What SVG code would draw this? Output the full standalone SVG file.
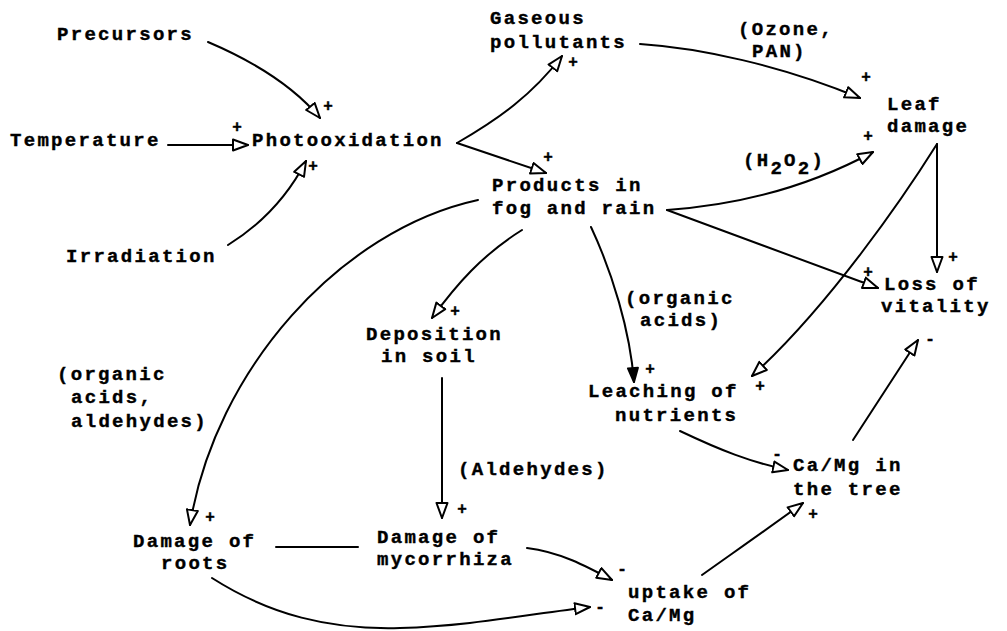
<svg xmlns="http://www.w3.org/2000/svg" width="1007" height="631" viewBox="0 0 1007 631">
  <style>
    .t { font-family: "Liberation Mono", "DejaVu Sans Mono", monospace; font-weight: bold; font-size: 19px; letter-spacing: 2.3px; fill: #000; stroke: #000; stroke-width: 0.4px; }
    .s { font-family: "Liberation Mono", "DejaVu Sans Mono", monospace; font-weight: bold; font-size: 16px; fill: #000; stroke: #000; stroke-width: 0.4px; text-anchor: middle; dominant-baseline: central; }
    .c { fill: none; stroke: #000; stroke-width: 2; stroke-linecap: round; }
    .open { marker-end: url(#openHead); }
    .solid { marker-end: url(#solidHead); }
  </style>
  <defs>
    <marker id="openHead" markerUnits="userSpaceOnUse" markerWidth="18" markerHeight="14" viewBox="0 0 18 14" refX="16" refY="7" orient="auto">
      <path d="M1,1.5 L16,7 L1,12.5 Z" fill="#fff" stroke="#000" stroke-width="2" stroke-linejoin="round"/>
    </marker>
    <marker id="solidHead" markerUnits="userSpaceOnUse" markerWidth="18" markerHeight="14" viewBox="0 0 18 14" refX="16" refY="7" orient="auto">
      <path d="M2,2 L16,7 L2,12 Z" fill="#000" stroke="#000" stroke-width="2" stroke-linejoin="round"/>
    </marker>
  </defs>

  <rect width="1007" height="631" fill="#fff"/>

  <!-- causal links -->
  <g id="connectors">
    <path class="c open" d="M208,42 C255,62 295,88 320,118"/>
    <path class="c open" d="M168,145 L248,145"/>
    <path class="c open" d="M228,245 C265,222 290,192 306,161"/>
    <path class="c open" d="M457,143 C500,118 532,95 562,56"/>
    <path class="c open" d="M457,143 L546,173"/>
    <path class="c open" d="M640,44 C700,48 780,65 860,98"/>
    <path class="c open" d="M667,210 C740,205 810,186 873,152"/>
    <path class="c open" d="M667,210 L878,288"/>
    <path class="c open" d="M937,144 L937,272"/>
    <path class="c open" d="M937,144 C905,195 830,305 752,376"/>
    <path class="c solid" d="M591,227 C612,272 630,330 634,382"/>
    <path class="c open" d="M522,230 C482,255 456,285 432,318"/>
    <path class="c open" d="M478,200 C340,230 215,370 190,525"/>
    <path class="c open" d="M442,378 L442,518"/>
    <path class="c" d="M276,547 L358,547"/>
    <path class="c open" d="M527,548 C560,552 586,566 612,580"/>
    <path class="c open" d="M212,578 C270,615 330,630 400,628 C470,626 530,614 590,607"/>
    <path class="c open" d="M680,431 C720,450 750,462 788,470"/>
    <path class="c open" d="M702,575 C740,548 770,527 803,503"/>
    <path class="c open" d="M853,440 L918,340"/>
  </g>

  <!-- link signs -->
  <g id="signs">
    <text class="s" x="328" y="107">+</text>
    <text class="s" x="237" y="128">+</text>
    <text class="s" x="313" y="167">+</text>
    <text class="s" x="573" y="63">+</text>
    <text class="s" x="548" y="158">+</text>
    <text class="s" x="866" y="78">+</text>
    <text class="s" x="868" y="137">+</text>
    <text class="s" x="868" y="273">+</text>
    <text class="s" x="953" y="258">+</text>
    <text class="s" x="760" y="387">+</text>
    <text class="s" x="650" y="370">+</text>
    <text class="s" x="455" y="312">+</text>
    <text class="s" x="210" y="518">+</text>
    <text class="s" x="462" y="510">+</text>
    <text class="s" x="777" y="455">-</text>
    <text class="s" x="813" y="515">+</text>
    <text class="s" x="930" y="340">-</text>
    <text class="s" x="622" y="570">-</text>
    <text class="s" x="600" y="608">-</text>
  </g>

  <!-- link annotations -->
  <g id="annotations">
    <text class="t" x="738" y="35">(Ozone,</text>
    <text class="t" x="752" y="57">PAN)</text>
    <text class="t" x="743" y="166">(H<tspan dy="8">2</tspan><tspan dy="-8">O</tspan><tspan dy="8">2</tspan><tspan dy="-8">)</tspan></text>
    <text class="t" x="625" y="304">(organic</text>
    <text class="t" x="640" y="326">acids)</text>
    <text class="t" x="57" y="380">(organic</text>
    <text class="t" x="71" y="403">acids,</text>
    <text class="t" x="71" y="427">aldehydes)</text>
    <text class="t" x="458" y="475">(Aldehydes)</text>
  </g>

  <!-- nodes -->
  <g id="precursors"><text class="t" x="57" y="40">Precursors</text></g>
  <g id="temperature"><text class="t" x="10" y="146">Temperature</text></g>
  <g id="irradiation"><text class="t" x="66" y="262">Irradiation</text></g>
  <g id="photooxidation"><text class="t" x="252" y="146">Photooxidation</text></g>
  <g id="gaseous-pollutants">
    <text class="t" x="490" y="24">Gaseous</text>
    <text class="t" x="490" y="48">pollutants</text>
  </g>
  <g id="products-fog-rain">
    <text class="t" x="492" y="191">Products in</text>
    <text class="t" x="492" y="214">fog and rain</text>
  </g>
  <g id="leaf-damage">
    <text class="t" x="887" y="110">Leaf</text>
    <text class="t" x="887" y="132">damage</text>
  </g>
  <g id="loss-of-vitality">
    <text class="t" x="884" y="290">Loss of</text>
    <text class="t" x="881" y="312">vitality</text>
  </g>
  <g id="deposition-in-soil">
    <text class="t" x="366" y="340">Deposition</text>
    <text class="t" x="381" y="362">in soil</text>
  </g>
  <g id="leaching-of-nutrients">
    <text class="t" x="588" y="397">Leaching of</text>
    <text class="t" x="615" y="421">nutrients</text>
  </g>
  <g id="camg-in-tree">
    <text class="t" x="793" y="471">Ca/Mg in</text>
    <text class="t" x="793" y="495">the tree</text>
  </g>
  <g id="damage-of-roots">
    <text class="t" x="133" y="547">Damage of</text>
    <text class="t" x="161" y="569">roots</text>
  </g>
  <g id="damage-of-mycorrhiza">
    <text class="t" x="377" y="543">Damage of</text>
    <text class="t" x="377" y="565">mycorrhiza</text>
  </g>
  <g id="uptake-camg">
    <text class="t" x="628" y="598">uptake of</text>
    <text class="t" x="628" y="621">Ca/Mg</text>
  </g>
</svg>
